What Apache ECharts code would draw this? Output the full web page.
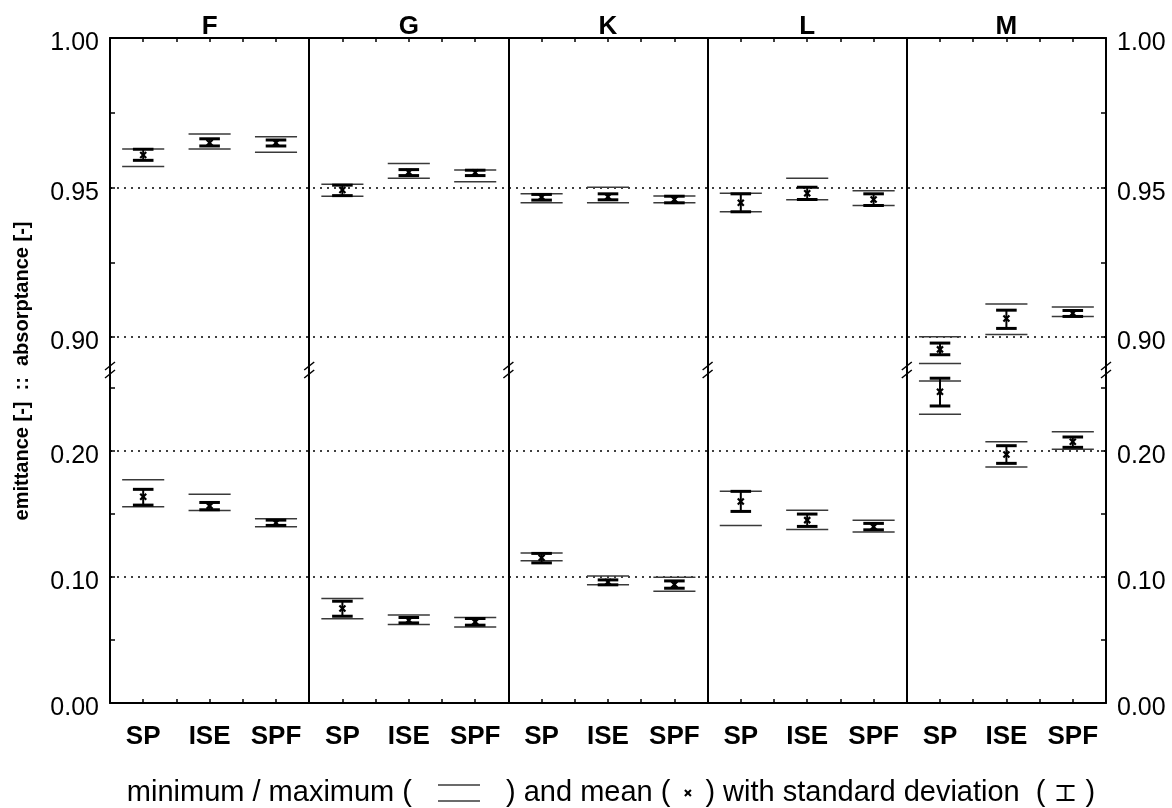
<!DOCTYPE html>
<html><head><meta charset="utf-8">
<script src="https://cdn.jsdelivr.net/npm/echarts@6/dist/echarts.min.js"></script>
<style>html,body{margin:0;padding:0;background:#fff}#chart{width:1172px;height:808px}</style>
</head><body><div id="chart"></div>
<script>
const panels = ['F', 'G', 'K', 'L', 'M'];
const methods = ['SP', 'ISE', 'SPF'];
// order: F-SP, F-ISE, F-SPF, G-SP, ... , M-SPF
const absMin  = [0.9570, 0.9629, 0.9618, 0.9471, 0.9531, 0.9519, 0.9449, 0.9449, 0.9449, 0.9419, 0.9459, 0.9440, 0.8912, 0.9009, 0.9069];
const absMax  = [0.9629, 0.9679, 0.9670, 0.9511, 0.9580, 0.9559, 0.9479, 0.9501, 0.9472, 0.9481, 0.9531, 0.9489, 0.9001, 0.9111, 0.9101];
const absMean = [0.9609, 0.9650, 0.9650, 0.9492, 0.9551, 0.9550, 0.9468, 0.9469, 0.9460, 0.9449, 0.9481, 0.9460, 0.8959, 0.9062, 0.9080];
const absSdLo = [0.9591, 0.9639, 0.9639, 0.9473, 0.9540, 0.9540, 0.9458, 0.9459, 0.9449, 0.9419, 0.9460, 0.9440, 0.8941, 0.9029, 0.9069];
const absSdHi = [0.9628, 0.9663, 0.9659, 0.9508, 0.9560, 0.9558, 0.9477, 0.9479, 0.9471, 0.9479, 0.9501, 0.9479, 0.8980, 0.9090, 0.9089];
const emiMin  = [0.1556, 0.1527, 0.1397, 0.0667, 0.0622, 0.0603, 0.1127, 0.0937, 0.0886, 0.1408, 0.1376, 0.1355, 0.2289, 0.1871, 0.2011];
const emiMax  = [0.1770, 0.1656, 0.1460, 0.0829, 0.0698, 0.0678, 0.1190, 0.1006, 0.0998, 0.1678, 0.1529, 0.1448, 0.2553, 0.2071, 0.2151];
const emiMean = [0.1635, 0.1563, 0.1429, 0.0749, 0.0656, 0.0643, 0.1151, 0.0960, 0.0940, 0.1598, 0.1450, 0.1397, 0.2468, 0.1971, 0.2071];
const emiSdLo = [0.1569, 0.1532, 0.1408, 0.0688, 0.0635, 0.0617, 0.1111, 0.0937, 0.0910, 0.1519, 0.1400, 0.1373, 0.2355, 0.1900, 0.2027];
const emiSdHi = [0.1694, 0.1590, 0.1450, 0.0807, 0.0678, 0.0670, 0.1186, 0.0976, 0.0968, 0.1678, 0.1498, 0.1424, 0.2575, 0.2040, 0.2109];

const topRange = [0.89, 1.00];
const botRange = [0.00, 0.2664];
const topTicks = [0.90, 0.925, 0.95, 0.975, 1.00];
const topLabels = [0.90, 0.95, 1.00];
const topGrid = [0.90, 0.95];
const botTicks = [0.00, 0.05, 0.10, 0.15, 0.20, 0.25];
const botLabels = [0.00, 0.10, 0.20];
const botGrid = [0.10, 0.20];
const yTitle = 'emittance [-]  ::  absorptance [-]';
const legendTexts = ['minimum / maximum (', ') and mean (', ') with standard deviation  (', ')'];

const FONT = '"Liberation Sans", Arial, Helvetica, sans-serif';
const nCat = panels.length * methods.length;
const separators = [];
for (let p = 0; p <= panels.length; p++) separators.push(p * methods.length);

function rows(mn, mx, me, lo, hi) {
  return mn.map((v, i) => [i, v, mx[i], me[i], lo[i], hi[i]]);
}

function errRender(params, api) {
  const i = api.value(0);
  const w = api.size([1, 0])[0];
  const cx = api.coord([i + 0.5, api.value(3)])[0];
  const y = k => api.coord([i + 0.5, api.value(k)])[1];
  const yMin = y(1), yMax = y(2), yMean = y(3), yLo = y(4), yHi = y(5);
  const hw = 0.317 * w, cw = 0.155 * w, m = 3;
  const thin = { stroke: '#3a3a3a', lineWidth: 1.5 };
  const bold = { stroke: '#000', lineWidth: 3 };
  return {
    type: 'group',
    children: [
      { type: 'line', shape: { x1: cx - hw, y1: yMax, x2: cx + hw, y2: yMax }, style: thin },
      { type: 'line', shape: { x1: cx - hw, y1: yMin, x2: cx + hw, y2: yMin }, style: thin },
      { type: 'line', shape: { x1: cx, y1: yHi, x2: cx, y2: yLo }, style: { stroke: '#000', lineWidth: 2 } },
      { type: 'line', shape: { x1: cx - cw, y1: yHi, x2: cx + cw, y2: yHi }, style: bold },
      { type: 'line', shape: { x1: cx - cw, y1: yLo, x2: cx + cw, y2: yLo }, style: bold },
      { type: 'line', shape: { x1: cx - m, y1: yMean - m, x2: cx + m, y2: yMean + m }, style: { stroke: '#000', lineWidth: 2.2 } },
      { type: 'line', shape: { x1: cx - m, y1: yMean + m, x2: cx + m, y2: yMean - m }, style: { stroke: '#000', lineWidth: 2.2 } }
    ]
  };
}

function breakRender(params, api) {
  const p = api.coord([api.value(0), botRange[1]]);
  const st = { stroke: '#000', lineWidth: 1.5 };
  return {
    type: 'group',
    children: [
      { type: 'line', shape: { x1: p[0] - 5, y1: p[1] + 3, x2: p[0] + 5, y2: p[1] - 5 }, style: st },
      { type: 'line', shape: { x1: p[0] - 5, y1: p[1] + 11, x2: p[0] + 5, y2: p[1] + 3 }, style: st }
    ]
  };
}

function markLines(gridVals) {
  const data = [];
  separators.slice(1, -1).forEach(s => data.push({ xAxis: s, lineStyle: { color: '#000', width: 2, type: 'solid' } }));
  gridVals.forEach(v => data.push({ yAxis: v, lineStyle: { color: '#000', width: 1.5, type: [2, 5] } }));
  return { silent: true, symbol: 'none', label: { show: false }, animation: false, data };
}

function xLabel(top) {
  return v => {
    const k = Math.round(v * 2);
    if (k % 2 !== 1) return '';
    const idx = (k - 1) / 2;
    if (top) return idx % methods.length === 1 ? panels[(idx - 1) / methods.length] : '';
    return methods[idx % methods.length];
  };
}

const axisLine = { show: true, onZero: false, lineStyle: { color: '#000', width: 2 } };

function yAx(grid, pos, range, ticks, labels) {
  return {
    type: 'value', gridIndex: grid, position: pos, min: range[0], max: range[1],
    axisLine,
    axisTick: { show: true, inside: true, length: 5, customValues: ticks, lineStyle: { color: '#000', width: 1.5 } },
    axisLabel: {
      show: true, customValues: labels, formatter: v => v.toFixed(2), fontSize: 25, color: '#000',
      margin: 11, verticalAlign: 'top', lineHeight: 11, fontFamily: FONT
    },
    splitLine: { show: false }
  };
}

const chart = echarts.init(document.getElementById('chart'), null, { renderer: 'canvas' });

// legend layout from measured text widths
const LF = 29;
const ctx = document.createElement('canvas').getContext('2d');
ctx.font = LF + 'px ' + FONT;
const symW = [94, 35, 40];
let total = 0;
legendTexts.forEach((t, i) => { total += ctx.measureText(t).width; if (i < symW.length) total += symW[i]; });
let lx = 611 - total / 2;
const ly = 793;
const legendEls = [];
legendTexts.forEach((t, i) => {
  legendEls.push({ type: 'text', x: lx, y: ly, style: { text: t, font: LF + 'px ' + FONT, fill: '#000', verticalAlign: 'middle', align: 'left' } });
  lx += ctx.measureText(t).width;
  if (i < symW.length) {
    const c = lx + symW[i] / 2;
    if (i === 0) {
      legendEls.push({ type: 'line', shape: { x1: c - 21, y1: ly - 8, x2: c + 21, y2: ly - 8 }, style: { stroke: '#3a3a3a', lineWidth: 1.5 } });
      legendEls.push({ type: 'line', shape: { x1: c - 21, y1: ly + 8, x2: c + 21, y2: ly + 8 }, style: { stroke: '#3a3a3a', lineWidth: 1.5 } });
    } else if (i === 1) {
      legendEls.push({ type: 'line', shape: { x1: c - 3, y1: ly - 3, x2: c + 3, y2: ly + 3 }, style: { stroke: '#000', lineWidth: 2 } });
      legendEls.push({ type: 'line', shape: { x1: c - 3, y1: ly + 3, x2: c + 3, y2: ly - 3 }, style: { stroke: '#000', lineWidth: 2 } });
    } else {
      legendEls.push({ type: 'line', shape: { x1: c - 9, y1: ly - 7, x2: c + 9, y2: ly - 7 }, style: { stroke: '#000', lineWidth: 2 } });
      legendEls.push({ type: 'line', shape: { x1: c - 9, y1: ly + 7, x2: c + 9, y2: ly + 7 }, style: { stroke: '#000', lineWidth: 2 } });
      legendEls.push({ type: 'line', shape: { x1: c, y1: ly - 7, x2: c, y2: ly + 7 }, style: { stroke: '#000', lineWidth: 2 } });
    }
    lx += symW[i];
  }
});

const option = {
  animation: false,
  backgroundColor: '#fff',
  textStyle: { fontFamily: FONT },
  grid: [
    { left: 110, right: 66, top: 38, height: 329 },
    { left: 110, right: 66, top: 367, height: 336 }
  ],
  xAxis: [
    {
      type: 'value', gridIndex: 0, position: 'top', min: 0, max: nCat, interval: 0.5,
      axisLine, axisTick: { show: true, inside: true, length: 4, lineStyle: { color: '#000', width: 1.5 } },
      axisLabel: { formatter: xLabel(true), fontSize: 26, fontWeight: 'bold', color: '#000', margin: -2, fontFamily: FONT },
      splitLine: { show: false }
    },
    {
      type: 'value', gridIndex: 1, position: 'bottom', min: 0, max: nCat, interval: 0.5,
      axisLine, axisTick: { show: true, inside: true, length: 4, lineStyle: { color: '#000', width: 1.5 } },
      axisLabel: { formatter: xLabel(false), fontSize: 26, fontWeight: 'bold', color: '#000', margin: 21, fontFamily: FONT },
      splitLine: { show: false }
    }
  ],
  yAxis: [
    yAx(0, 'left', topRange, topTicks, topLabels),
    yAx(0, 'right', topRange, topTicks, topLabels),
    yAx(1, 'left', botRange, botTicks, botLabels),
    yAx(1, 'right', botRange, botTicks, botLabels)
  ],
  series: [
    {
      type: 'custom', name: 'absorptance', xAxisIndex: 0, yAxisIndex: 0, renderItem: errRender,
      data: rows(absMin, absMax, absMean, absSdLo, absSdHi), markLine: markLines(topGrid), z: 5
    },
    {
      type: 'custom', name: 'emittance', xAxisIndex: 1, yAxisIndex: 2, renderItem: errRender,
      data: rows(emiMin, emiMax, emiMean, emiSdLo, emiSdHi), markLine: markLines(botGrid), z: 5
    },
    {
      type: 'custom', name: 'breaks', xAxisIndex: 1, yAxisIndex: 2, renderItem: breakRender, clip: false,
      data: separators.map(s => [s]), z: 10, silent: true
    }
  ],
  graphic: [
    {
      type: 'text', x: 22, y: 371, rotation: Math.PI / 2,
      style: { text: yTitle, font: 'bold 20px ' + FONT, fill: '#000', align: 'center', verticalAlign: 'middle' }
    },
    { type: 'group', children: legendEls }
  ]
};
chart.setOption(option);
</script>
</body></html>
